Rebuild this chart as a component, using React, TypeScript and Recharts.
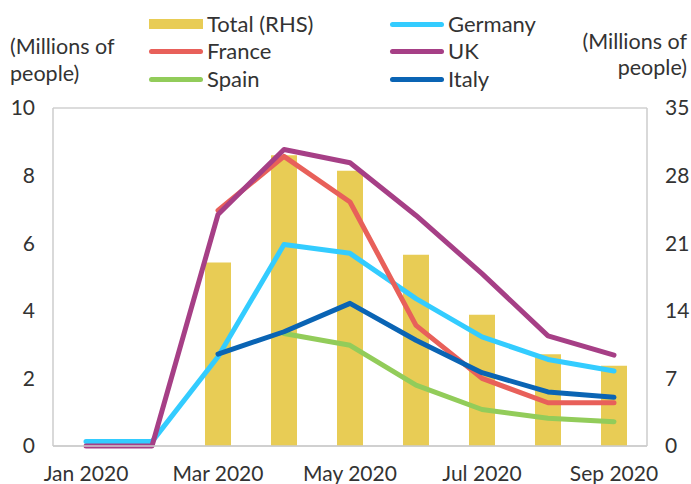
import React from 'react';
import { ComposedChart, Bar, Line, XAxis, YAxis, CartesianGrid, Legend } from 'recharts';

const months = ['Jan 2020', 'Feb 2020', 'Mar 2020', 'Apr 2020', 'May 2020', 'Jun 2020', 'Jul 2020', 'Aug 2020', 'Sep 2020'];
const total = [null, null, 19.0, 30.1, 28.5, 19.8, 13.6, 9.5, 8.3];
const germany = [0.13, 0.13, 2.64, 5.96, 5.7, 4.36, 3.23, 2.56, 2.22];
const france = [null, null, 6.97, 8.57, 7.22, 3.57, 2.0, 1.28, 1.28];
const uk = [0, 0, 6.85, 8.77, 8.38, 6.82, 5.1, 3.26, 2.69];
const spain = [null, null, null, 3.33, 2.98, 1.8, 1.08, 0.82, 0.72];
const italy = [null, null, 2.72, 3.38, 4.22, 3.13, 2.17, 1.6, 1.44];

const leftTicks = [0, 2, 4, 6, 8, 10];
const rightTicks = [0, 7, 14, 21, 28, 35];

const COLORS = {
  total: '#e8cc55',
  germany: '#33ccff',
  france: '#e8605a',
  uk: '#a63f86',
  spain: '#92cc5a',
  italy: '#0a64b4',
};

const legendItems = [
  { key: 'total', name: 'Total (RHS)', type: 'rect' },
  { key: 'germany', name: 'Germany', type: 'line' },
  { key: 'france', name: 'France', type: 'line' },
  { key: 'uk', name: 'UK', type: 'line' },
  { key: 'spain', name: 'Spain', type: 'line' },
  { key: 'italy', name: 'Italy', type: 'line' },
];

const data = months.map((m, i) => ({
  month: m,
  total: total[i],
  germany: germany[i],
  france: france[i],
  uk: uk[i],
  spain: spain[i],
  italy: italy[i],
}));

const FONT = 'Lato, "Open Sans", sans-serif';
const TEXT = '#333333';

const LegendContent = () => (
  <div style={{ position: 'relative', width: 691, height: 100, fontFamily: FONT, fontSize: 22, color: TEXT }}>
    {legendItems.map((it, i) => {
      const col = i % 2;
      const row = Math.floor(i / 2);
      const left = col === 0 ? 149 : 390;
      const cy = [24, 51, 79][row];
      return (
        <div key={it.key} style={{ position: 'absolute', left, top: cy - 14, height: 28, display: 'flex', alignItems: 'center', whiteSpace: 'nowrap' }}>
          {it.type === 'rect' ? (
            <div style={{ width: 54, height: 10, background: COLORS[it.key] }} />
          ) : (
            <div style={{ width: 54, height: 5, borderRadius: 3, background: COLORS[it.key] }} />
          )}
          <span style={{ marginLeft: 4, lineHeight: '28px' }}>{it.name}</span>
        </div>
      );
    })}
  </div>
);

export default function App() {
  return (
    <div style={{ position: 'absolute', left: 0, top: 0, width: 691, height: 484, background: '#fff', fontFamily: FONT }}>
      <ComposedChart width={691} height={484} data={data} margin={{ top: 108, right: 0, bottom: 0, left: 0 }}>
        <CartesianGrid vertical={false} stroke="#d0d0d0" strokeWidth={1.5} />
        <XAxis
          dataKey="month"
          interval={1}
          height={38}
          tickLine={false}
          tickSize={0}
          tickMargin={20}
          axisLine={{ stroke: '#cccccc', strokeWidth: 1.5 }}
          tick={{ fill: TEXT, fontSize: 21, fontFamily: FONT }}
        />
        <YAxis
          yAxisId="left"
          orientation="left"
          width={53}
          domain={[0, 10]}
          ticks={leftTicks}
          tickLine={false}
          tickSize={0}
          tickMargin={18}
          axisLine={{ stroke: '#cccccc', strokeWidth: 1.5 }}
          tick={{ fill: TEXT, fontSize: 21, fontFamily: FONT }}
        />
        <YAxis
          yAxisId="right"
          orientation="right"
          width={44}
          domain={[0, 35]}
          ticks={rightTicks}
          tickLine={false}
          tickSize={0}
          tickMargin={18}
          axisLine={{ stroke: '#cccccc', strokeWidth: 1.5 }}
          tick={{ fill: TEXT, fontSize: 21, fontFamily: FONT }}
        />
        <Legend
          layout="horizontal"
          verticalAlign="middle"
          align="center"
          content={<LegendContent />}
          wrapperStyle={{ position: 'absolute', top: 0, left: 0, width: 691, height: 100 }}
        />
        <Bar yAxisId="right" dataKey="total" name="Total (RHS)" fill={COLORS.total} barSize={26} isAnimationActive={false} />
        <Line yAxisId="left" dataKey="germany" name="Germany" stroke={COLORS.germany} strokeWidth={5} dot={false} activeDot={false} strokeLinecap="round" strokeLinejoin="round" type="linear" isAnimationActive={false} />
        <Line yAxisId="left" dataKey="france" name="France" stroke={COLORS.france} strokeWidth={5} dot={false} activeDot={false} strokeLinecap="round" strokeLinejoin="round" type="linear" isAnimationActive={false} />
        <Line yAxisId="left" dataKey="uk" name="UK" stroke={COLORS.uk} strokeWidth={5} dot={false} activeDot={false} strokeLinecap="round" strokeLinejoin="round" type="linear" isAnimationActive={false} />
        <Line yAxisId="left" dataKey="spain" name="Spain" stroke={COLORS.spain} strokeWidth={5} dot={false} activeDot={false} strokeLinecap="round" strokeLinejoin="round" type="linear" isAnimationActive={false} />
        <Line yAxisId="left" dataKey="italy" name="Italy" stroke={COLORS.italy} strokeWidth={5} dot={false} activeDot={false} strokeLinecap="round" strokeLinejoin="round" type="linear" isAnimationActive={false} />
      </ComposedChart>
      <div style={{ position: 'absolute', left: 10, top: 33, fontSize: 21.5, lineHeight: '27px', color: TEXT, whiteSpace: 'nowrap' }}>
        (Millions of<br />people)
      </div>
      <div style={{ position: 'absolute', right: 4, top: 28, fontSize: 21.5, lineHeight: '26px', color: TEXT, textAlign: 'right', whiteSpace: 'nowrap' }}>
        (Millions of<br />people)
      </div>
    </div>
  );
}
